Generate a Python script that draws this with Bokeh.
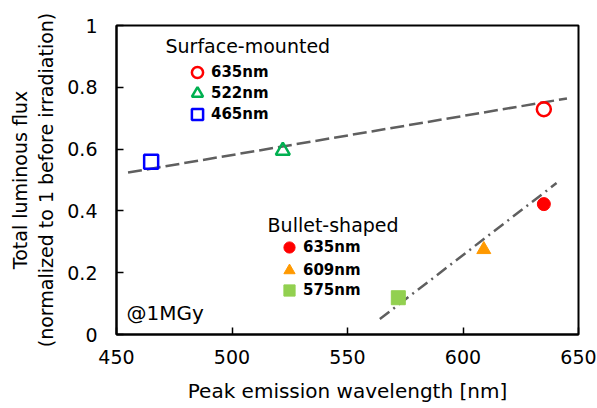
from bokeh.plotting import figure
from bokeh.models import ColumnDataSource, Range1d, FixedTicker, Legend, LegendItem, Label
from bokeh.embed import file_html
from bokeh.resources import INLINE

# ---- data ----
sm_wavelength = [635, 522, 465]
sm_flux = [0.729, 0.595, 0.559]
sm_labels = ["635nm", "522nm", "465nm"]
sm_markers = ["circle", "triangle", "square"]
sm_colors = ["#FF0000", "#00B050", "#0000FF"]

bs_wavelength = [635, 609, 572]
bs_flux = [0.422, 0.275, 0.119]
bs_labels = ["635nm", "609nm", "575nm"]
bs_markers = ["circle", "triangle", "square"]
bs_colors = ["#FF0000", "#FF9900", "#92D050"]
bs_sizes = [13, 14, 14]

sm_fit_x = [455, 645]
sm_fit_y = [0.524, 0.764]
bs_fit_x = [564, 640.5]
bs_fit_y = [0.05, 0.49]

x_ticks = [450, 500, 550, 600, 650]
y_ticks = [0, 0.2, 0.4, 0.6, 0.8, 1]
y_tick_labels = ["0", "0.2", "0.4", "0.6", "0.8", "1"]

FONT = "DejaVu Sans"

p = figure(width=597, height=408, x_range=Range1d(450, 650), y_range=Range1d(0, 1),
           output_backend="svg", toolbar_location=None,
           min_border_left=116, min_border_right=19, min_border_top=25, min_border_bottom=74)
p.xgrid.visible = False
p.ygrid.visible = False
p.outline_line_color = "black"
p.outline_line_width = 2
p.background_fill_color = "white"
p.border_fill_color = "white"

for ax in (p.xaxis[0], p.yaxis[0]):
    ax.axis_line_width = 2
    ax.axis_line_color = "black"
    ax.major_tick_in = 7
    ax.major_tick_out = 0
    ax.major_tick_line_width = 1.5
    ax.minor_tick_line_color = None
    ax.major_label_text_font = FONT
    ax.major_label_text_font_size = "19px"
    ax.major_label_text_color = "black"
    ax.axis_label_text_font = FONT
    ax.axis_label_text_font_style = "normal"
    ax.axis_label_text_color = "black"

p.xaxis.ticker = FixedTicker(ticks=x_ticks)
p.yaxis.ticker = FixedTicker(ticks=y_ticks)
p.yaxis.major_label_overrides = {t: l for t, l in zip(y_ticks, y_tick_labels)}
p.xaxis.major_label_standoff = 15
p.yaxis.major_label_standoff = 19
p.xaxis.axis_label = "Peak emission wavelength [nm]"
p.xaxis.axis_label_text_font_size = "20px"
p.xaxis.axis_label_standoff = 12
p.yaxis.axis_label = "Total luminous flux\n(normalized to 1 before irradiation)"
p.yaxis.axis_label_text_font_size = "19px"
p.yaxis.axis_label_standoff = 7

# fit lines
p.line(sm_fit_x, sm_fit_y, line_color="#5f5f5f", line_width=2.5, line_dash="14 5")
p.line(bs_fit_x, bs_fit_y, line_color="#5f5f5f", line_width=2.5, line_dash="12 5 2 5")

# points
sm_src = ColumnDataSource(dict(x=sm_wavelength, y=sm_flux, marker=sm_markers, color=sm_colors))
bs_src = ColumnDataSource(dict(x=bs_wavelength, y=bs_flux, marker=bs_markers, color=bs_colors, size=bs_sizes))

r_sm = p.scatter("x", "y", source=sm_src, marker="marker", size=14, line_color="color",
                 fill_color=None, line_width=2.5)
r_bs = p.scatter("x", "y", source=bs_src, marker="marker", size="size", line_color="color",
                 fill_color="color", line_width=1)

common = dict(orientation="vertical", glyph_width=28, glyph_height=28, label_standoff=0,
              padding=0, margin=0, border_line_color=None, background_fill_alpha=0,
              label_text_font=FONT, label_text_font_style="bold", label_text_font_size="15px",
              label_text_color="black", label_height=14)

# one single-row legend per entry, so rows can be packed tighter than the glyph box
sm_legend_pos = [(67, 248), (67, 227), (67, 206)]
bs_legend_pos = [(159, 73), (159, 50), (159, 30)]
for i in range(3):
    p.add_layout(Legend(items=[LegendItem(label=sm_labels[i], renderers=[r_sm], index=i)],
                        location=sm_legend_pos[i], **common))
    p.add_layout(Legend(items=[LegendItem(label=bs_labels[i], renderers=[r_bs], index=i)],
                        location=bs_legend_pos[i], **common))

p.add_layout(Label(x=471.2, y=0.935, text="Surface-mounted", text_baseline="middle",
                   text_font=FONT, text_font_size="19px", text_color="black"))
p.add_layout(Label(x=515.4, y=0.353, text="Bullet-shaped", text_baseline="middle",
                   text_font=FONT, text_font_size="19px", text_color="black"))
p.add_layout(Label(x=454.3, y=0.068, text="@1MGy", text_baseline="middle",
                   text_font=FONT, text_font_size="20px", text_color="black"))

open("out.html", "w").write(file_html(p, INLINE))
